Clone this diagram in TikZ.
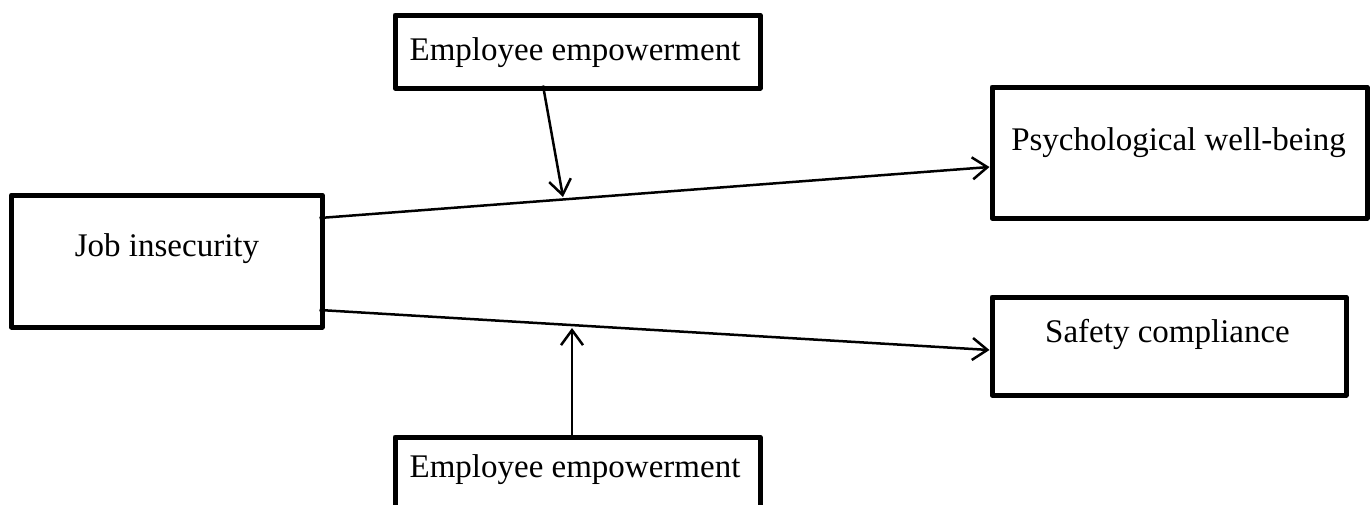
\documentclass[tikz,border=0pt]{standalone}
\usepackage{fontspec}
\setmainfont{Liberation Serif}
\usetikzlibrary{arrows.meta}
\begin{document}
\begin{tikzpicture}[x=1pt,y=-1pt,
  box/.style={draw=black,line width=5pt,line join=round,fill=white,inner sep=0pt,outer sep=0pt},
  lbl/.style={anchor=base,inner sep=0pt,font=\fontsize{33}{40}\selectfont},
  conn/.style={line width=2.5pt,-{Straight Barb[length=15pt,width=22pt,line width=2.5pt]}}]
\clip (0,0) rectangle (1371,504);
\fill[white] (0,0) rectangle (1371,504);
% boxes
\node[box,minimum width=310.5pt,minimum height=132pt] (job) at (166.75,261) {};
\node[box,minimum width=365pt,minimum height=73pt] (ee1) at (577.5,51.5) {};
\node[box,minimum width=375pt,minimum height=131pt] (psy) at (1179.5,152.5) {};
\node[box,minimum width=354pt,minimum height=98pt] (saf) at (1169,346) {};
\node[box,minimum width=365pt,minimum height=73pt] (ee2) at (577.5,473.5) {};
% labels
\node[lbl] (tjob) at (167,256) {Job insecurity};
\node[lbl] (tee1) at (575,60) {Employee empowerment};
\node[lbl] (tpsy) at (1178.5,150) {Psychological well-being};
\node[lbl] (tsaf) at (1167.5,342) {Safety compliance};
\node[lbl] (tee2) at (575,477) {Employee empowerment};
% moderation target points
\coordinate (m1) at (563,197);
\coordinate (m2) at (572,328);
% connectors
\draw[conn] ([yshift=43pt,xshift=-2.5pt]job.east) -- ([yshift=-14.5pt,xshift=-2.5pt]psy.west);
\draw[conn] ([yshift=-49pt,xshift=-2.5pt]job.east) -- ([yshift=-4pt,xshift=-2.5pt]saf.west);
\draw[conn] ([xshift=-34.5pt,yshift=2.5pt]ee1.south) -- (m1);
\draw[conn] ([xshift=-5.5pt,yshift=-2.5pt]ee2.north) -- (m2);
\end{tikzpicture}
\end{document}
